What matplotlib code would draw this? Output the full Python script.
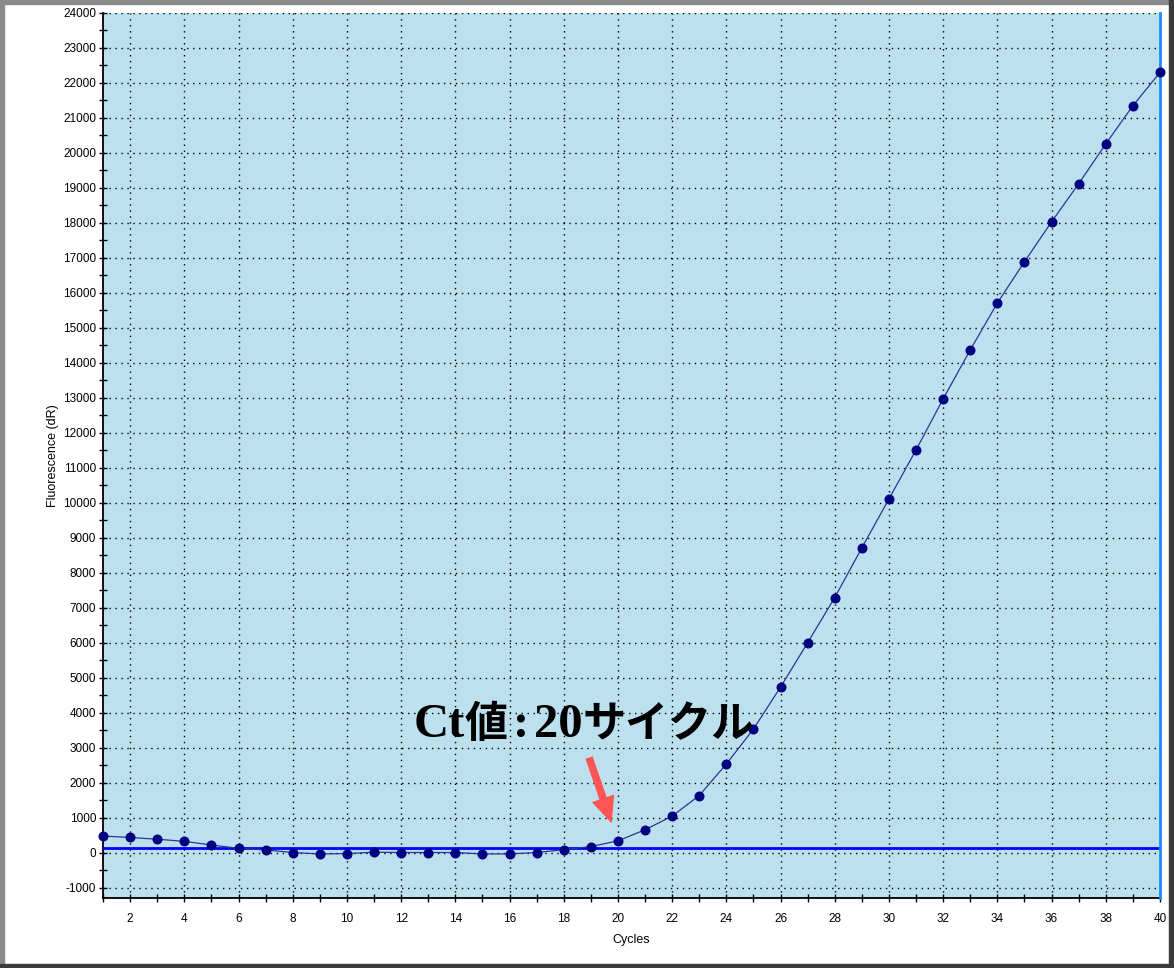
import matplotlib
matplotlib.use("Agg")
import matplotlib.pyplot as plt
from matplotlib.patches import Rectangle, FancyArrowPatch
from matplotlib.ticker import MultipleLocator
from matplotlib.transforms import ScaledTranslation

plt.rcParams["axes.unicode_minus"] = False

# Amplification plot data (cycle number vs. fluorescence dR)
cycles = list(range(1, 41))
fluorescence = [
    470, 430, 380, 320, 215, 120, 75, 0, -40, -30,
    10, 0, 0, 0, -40, -40, 0, 80, 170, 335,
    650, 1040, 1630, 2530, 3530, 4730, 6000, 7290, 8710, 10110,
    11510, 12970, 14370, 15710, 16890, 18030, 19120, 20260, 21350, 22300,
]
threshold = 130
# Ct label split into Latin and Japanese runs so each run uses its own face
ct_label_parts = ["Ct", "値", ":", "20", "サイクル"]
x_label = "Cycles"
y_label = "Fluorescence (dR)"
x_ticks = list(range(2, 41, 2))
y_ticks = list(range(-1000, 24001, 1000))

W, H = 1174, 968
DPI = 100
fig = plt.figure(figsize=(W / DPI, H / DPI), dpi=DPI, facecolor="white")

# window-style frame around the figure
fig.patches.append(Rectangle((0, 1 - 4 / H), 1, 4 / H, transform=fig.transFigure,
                             color="#8a8a8a", zorder=0))
fig.patches.append(Rectangle((0, 0), 4 / W, 1, transform=fig.transFigure,
                             color="#8a8a8a", zorder=0))
fig.patches.append(Rectangle((1 - 5 / W, 0), 5 / W, 1, transform=fig.transFigure,
                             color="#3c3c3c", zorder=0))
fig.patches.append(Rectangle((0, 0), 1, 4 / H, transform=fig.transFigure,
                             color="#3c3c3c", zorder=0))

left, right, top, bottom = 103, 1160, 13, 898
ax = fig.add_axes([left / W, (H - bottom) / H, (right - left) / W, (bottom - top) / H])
ax.set_facecolor("#BDE0EE")

ax.set_xlim(1, 40)
ax.set_ylim(-1300, 24000)

ax.set_xticks(x_ticks)
ax.xaxis.set_minor_locator(MultipleLocator(1))
ax.set_yticks(y_ticks)
ax.yaxis.set_minor_locator(MultipleLocator(500))

ax.tick_params(axis="both", which="both", direction="inout", length=6, width=1.0,
               color="black", labelsize=8.5)
ax.tick_params(axis="x", which="both", pad=8)
ax.tick_params(axis="y", which="both", pad=2)
for lab in ax.get_xticklabels() + ax.get_yticklabels():
    lab.set_fontfamily("Liberation Sans")

ax.grid(True, which="major", color="black", linestyle=(0, (1, 3.3)), linewidth=1.0)
ax.set_axisbelow(True)

for side in ("top", "right"):
    ax.spines[side].set_visible(False)
for side in ("left", "bottom"):
    ax.spines[side].set_linewidth(1.3)

ax.axhline(threshold, color="#0000FF", linewidth=2.0, zorder=3)
ax.axvline(40, color="#1E8CFF", linewidth=2.0, zorder=3, clip_on=False)

ax.plot(cycles, fluorescence, color="#2A3598", linewidth=0.9, marker="o",
        markersize=6.2, markerfacecolor="#000080", markeredgecolor="#000080",
        zorder=4, clip_on=False)

ax.set_xlabel(x_label, fontfamily="Liberation Sans", fontsize=9, labelpad=6)
ax.set_ylabel(y_label, fontfamily="Liberation Sans", fontsize=9, labelpad=3)

# Ct annotation: runs laid out side by side on a shared baseline
renderer = fig.canvas.get_renderer()
x0, y0 = 12.45, 3300
offset_px = 0.0
for part in ct_label_parts:
    is_latin = part.isascii()
    family = "Liberation Serif" if is_latin else "Noto Sans CJK JP"
    size = 35 if is_latin else 31
    gap = 5 if part == ":" else 0
    offset_px += gap
    t = ax.text(x0, y0, part, fontsize=size, fontweight="bold", family=family,
                va="baseline", ha="left", color="black", zorder=5,
                transform=ax.transData + ScaledTranslation(offset_px / DPI, 0,
                                                           fig.dpi_scale_trans))
    offset_px += t.get_window_extent(renderer).width + gap

arrow = FancyArrowPatch((18.9, 2790), (19.8, 760),
                        arrowstyle="simple,head_length=19,head_width=17,tail_width=5.5",
                        mutation_scale=1, color="#FF5555", linewidth=0, zorder=5)
ax.add_patch(arrow)

fig.savefig("out.png", dpi=DPI, facecolor="white")
